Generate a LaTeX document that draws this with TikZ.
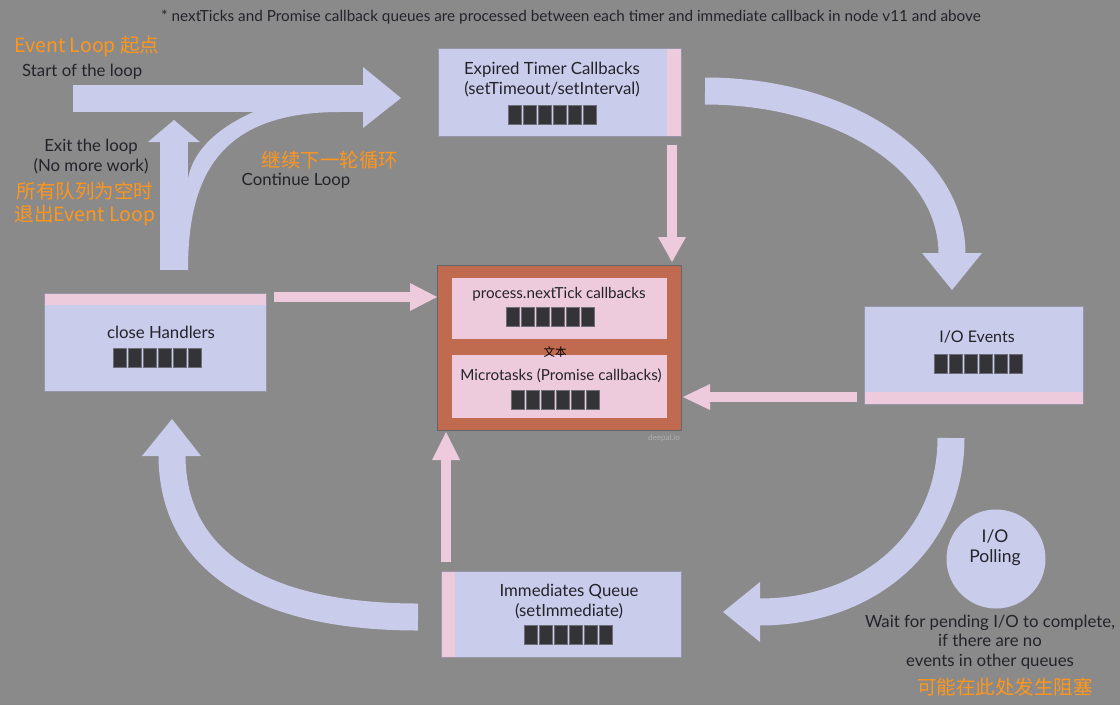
\documentclass[tikz,border=0pt]{standalone}
\usepackage{fontspec}
\setmainfont{Lato}
\newfontfamily\cjk{Noto Sans CJK SC}
\definecolor{bg}{RGB}{138,138,138}
\definecolor{lav}{RGB}{202,204,236}
\definecolor{pnk}{RGB}{237,203,221}
\definecolor{rust}{RGB}{192,106,80}
\definecolor{ink}{RGB}{35,35,42}
\definecolor{org}{RGB}{255,150,28}
\definecolor{sqc}{RGB}{52,52,56}
\definecolor{sqb}{RGB}{110,110,120}
\definecolor{bord}{RGB}{150,150,168}
\definecolor{wm}{RGB}{175,175,175}
\tikzset{
  box/.style={draw=bord, line width=0.6pt, fill=lav, inner sep=0pt},
  stripeR/.style={path picture={\fill[pnk] ([xshift=-14pt]path picture bounding box.north east) rectangle (path picture bounding box.south east);}},
  stripeL/.style={path picture={\fill[pnk] (path picture bounding box.north west) rectangle ([xshift=14pt]path picture bounding box.south west);}},
  stripeT/.style={path picture={\fill[pnk] (path picture bounding box.north west) rectangle ([yshift=-12pt]path picture bounding box.north east);}},
  stripeB/.style={path picture={\fill[pnk] ([yshift=12pt]path picture bounding box.south west) rectangle (path picture bounding box.south east);}},
  lbl/.style={text=ink, align=center, inner sep=0pt, font=\fontsize{16.8}{20}\selectfont},
  cn/.style={text=org, align=center, inner sep=0pt, font=\cjk\fontsize{19.5}{23}\selectfont},
  bigshaft/.style={draw=lav, line width=27pt},
  pshaft/.style={draw=pnk, line width=10pt},
  pics/queue/.style={code={
    \foreach \i in {0,...,5}{
      \filldraw[fill=sqc, draw=sqb, line width=0.4pt] ({\i*15pt-45pt+0.7pt},-9.5pt) rectangle ++(13.6pt,19pt);
    }}}
}
\begin{document}
\begin{tikzpicture}[x=1pt,y=-1pt]
\fill[bg] (0,0) rectangle (1120,705);
\useasboundingbox (0,0) rectangle (1120,705);

% ---- big lavender arrows ----
% start / exit / continue group
\fill[lav] (73,85) rectangle (364,112);
\fill[lav] (363,67) -- (401,98) -- (363,128) -- cycle;
\fill[lav] (160,141) rectangle (188,270);
\fill[lav] (148,142) -- (174,120) -- (200,142) -- cycle;
\fill[lav] (188,270) .. controls (188,175) and (220,112) .. (340,112) -- (340,110) -- (258,110) .. controls (215,128) and (187,155) .. (187,190) -- (187,270) -- cycle;

\coordinate (trs) at (705,91);
\coordinate (tre) at (952,254);
\draw[bigshaft] (trs) .. controls (840,91) and (952,160) .. (tre);
\fill[lav] (922,253) -- (952,290) -- (982,253) -- cycle;

\coordinate (brs) at (951,438);
\coordinate (bre) at (759,612);
\draw[bigshaft] (brs) .. controls (951,540) and (870,612) .. (bre);
\fill[lav] (760,582) -- (723,612) -- (760,642) -- cycle;

\coordinate (bls) at (418,617);
\coordinate (ble) at (172,455);
\draw[bigshaft] (bls) .. controls (260,617) and (172,560) .. (ble);
\fill[lav] (142,456) -- (172,419) -- (201,456) -- cycle;

% ---- boxes ----
\node[box, stripeR, minimum width=243pt, minimum height=88pt] (timer) at (559.5,92) {};
\node[lbl] (timerT) at (552,80) {Expired Timer Callbacks\\(setTimeout/setInterval)};
\pic at (552,114.5) {queue};

\node[box, stripeT, minimum width=222pt, minimum height=98pt] (close) at (155,342) {};
\node[lbl] (closeT) at (161,332) {close Handlers};
\pic at (157,357.5) {queue};

\node[box, stripeB, minimum width=219pt, minimum height=98pt] (io) at (973.5,355) {};
\node[lbl, font=\fontsize{16}{20}\selectfont] (ioT) at (977,337) {I/O Events};
\pic at (978,363.5) {queue};

\node[box, stripeL, minimum width=240pt, minimum height=86pt] (imm) at (561,614) {};
\node[lbl] (immT) at (569,602) {Immediates Queue\\(setImmediate)};
\pic at (568,635) {queue};

\node[draw=ink!70, line width=0.6pt, fill=rust, minimum width=244pt, minimum height=165pt, inner sep=0pt] (micro) at (559,347.5) {};
\node[fill=pnk, minimum width=215pt, minimum height=61pt, inner sep=0pt] (ntick) at (559.5,308.5) {};
\node[fill=pnk, minimum width=215pt, minimum height=63pt, inner sep=0pt] (prom) at (559.5,386.5) {};
\node[lbl, font=\fontsize{15.2}{18}\selectfont] (ntickT) at (559,294) {process.nextTick callbacks};
\pic at (550,317) {queue};
\node[lbl, font=\fontsize{15.2}{18}\selectfont] (promT) at (561,376) {Microtasks (Promise callbacks)};
\pic at (555,400) {queue};
\node[inner sep=0pt, font=\cjk\fontsize{11.5}{13}\selectfont, text=black] (wen) at (555,352) {文本};
\node[inner sep=0pt, font=\fontsize{8}{9}\selectfont, text=wm] (deepal) at (664,438) {deepal.io};

\node[circle, fill=lav, minimum size=99pt, inner sep=0pt] (poll) at (996,559) {};
\node[lbl, font=\fontsize{17.5}{20}\selectfont] (pollT) at (995,548) {I/O\\Polling};

% ---- pink arrows ----
\coordinate (p1s) at (672,145);
\coordinate (p1e) at (672,238);
\draw[pshaft] (p1s) -- (p1e);
\fill[pnk] (658,237) -- (672,262) -- (686,237) -- cycle;

\coordinate (p2s) at (274,297);
\coordinate (p2e) at (411,297);
\draw[pshaft] (p2s) -- (p2e);
\fill[pnk] (410,283) -- (437,297) -- (410,311) -- cycle;

\coordinate (p3s) at (857,397);
\coordinate (p3e) at (709,397);
\draw[pshaft] (p3s) -- (p3e);
\fill[pnk] (710,384) -- (683,397) -- (710,410) -- cycle;

\coordinate (p4s) at (446,562);
\coordinate (p4e) at (446,459);
\draw[pshaft] (p4s) -- (p4e);
\fill[pnk] (432,460) -- (446,432) -- (460,460) -- cycle;

% ---- labels ----
\node[lbl, font=\fontsize{15.3}{18}\selectfont] (note) at (571,17) {* nextTicks and Promise callback queues are processed between each timer and immediate callback in node v11 and above};
\node[cn, anchor=west] (startcn) at (14,47) {Event Loop 起点};
\node[lbl, anchor=west] (start) at (22,72) {Start of the loop};
\node[lbl] (exit) at (91,156.5) {Exit the loop\\(No more work)};
\node[cn] (exitcn) at (85,203.5) {所有队列为空时\\退出Event Loop};
\node[cn] (contcn) at (330,160) {继续下一轮循环};
\node[lbl] (cont) at (296,181) {Continue Loop};
\node[lbl, font=\fontsize{16.8}{19.5}\selectfont] (wait) at (990,642) {Wait for pending I/O to complete,\\if there are no\\events in other queues};
\node[cn] (waitcn) at (1005,687) {可能在此处发生阻塞};
\end{tikzpicture}
\end{document}
